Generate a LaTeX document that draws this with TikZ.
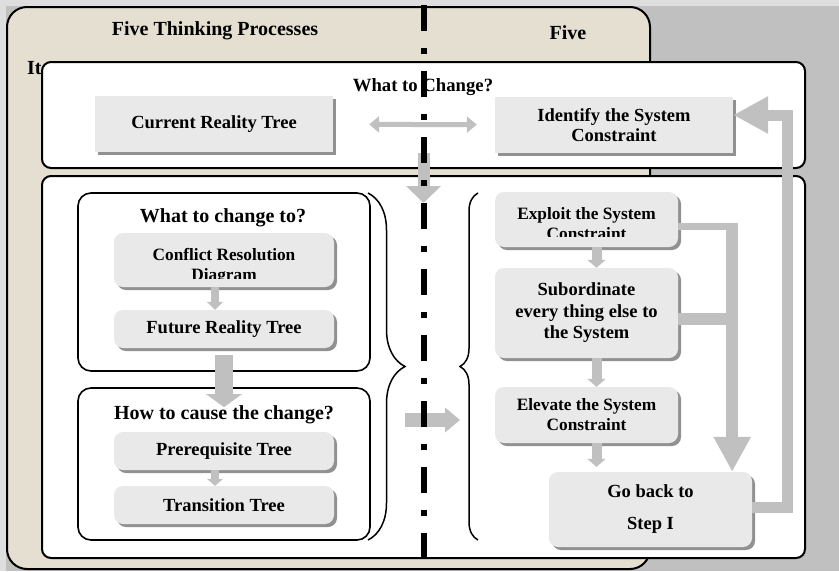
\documentclass[tikz,border=0pt]{standalone}
\usepackage{fontspec}
\setmainfont{Liberation Serif}
\usetikzlibrary{arrows.meta,positioning,shadows,decorations.pathreplacing}
\definecolor{backgray}{RGB}{192,192,192}
\definecolor{edgegray}{RGB}{222,222,222}
\definecolor{paper}{RGB}{229,223,210}
\definecolor{boxgray}{RGB}{233,233,233}
\definecolor{shadegray}{RGB}{145,145,145}
\definecolor{flowgray}{RGB}{192,192,192}
\newcommand\cardfont{\bfseries\fontsize{18.5}{21}\selectfont}
\newcommand\smallcardfont{\bfseries\fontsize{17.3}{20}\selectfont}
\tikzset{
  frame/.style={draw,line width=2pt,rounded corners=9pt,fill=white,inner sep=0pt},
  group/.style={draw,line width=1.6pt,rounded corners=13pt,minimum width=292pt,inner sep=0pt},
  card/.style={fill=boxgray,align=center,inner sep=0pt,font=\cardfont,
    drop shadow={shadow xshift=3pt,shadow yshift=-3pt,fill=shadegray,opacity=1}},
  rcard/.style={card,rounded corners=9pt},
  cardtext/.style={align=center,inner sep=0pt,font=\smallcardfont},
  headline/.style={font=\bfseries\fontsize{20}{24}\selectfont,inner sep=0pt},
  flow/.style n args={3}{draw=flowgray,line width=#1pt,-{Triangle[length=#2pt,width=#3pt]}},
  divider/.style={line width=6pt,dash pattern=on 26pt off 17pt on 6pt off 17pt},
  bracket/.style={decorate,decoration={brace,amplitude=#1pt},line width=1.5pt}
}
\begin{document}
\begin{tikzpicture}[x=1pt,y=-1pt]
% page, grey surround and paper panel
\fill[backgray] (0,0) rectangle (839,571);
\fill[edgegray] (0,0) rectangle (839,6);
\fill[edgegray] (0,0) rectangle (6,571);
\useasboundingbox (0,0) rectangle (839,571);
\draw[fill=paper,line width=2pt,rounded corners=20pt] (7,7) rectangle (650,569);
\node[headline] (tp) at (215,31) {Five Thinking Processes};
\node[headline] (fs) at (568,33) {Five};
\node[headline,anchor=west] (it) at (27,68) {It};

% white frames
\node[frame,minimum width=763pt,minimum height=106pt] (change) at (423.5,115) {};
\node[frame,minimum width=763pt,minimum height=382pt] (steps) at (423.5,367) {};

% what to change
\node[headline,font=\bfseries\fontsize{18.7}{22}\selectfont] (wtc) at (423,87) {What to Change?};
\node[card,minimum width=238pt,minimum height=56pt] (crt) at (214,124) {Current Reality Tree};
\node[card,minimum width=238pt,minimum height=56pt,font=\bfseries\fontsize{18.5}{20}\selectfont] (ident) at (614,125) {Identify the System\\Constraint};

% thinking processes, left column
\node[group,minimum height=178pt] (tobe) at (224,282) {};
\node[group,minimum height=152pt] (howto) at (224,464) {};
\node[headline] (tobetitle) at (223,218) {What to change to?};
\node[headline] (howtitle) at (224,415) {How to cause the change?};
\node[rcard,minimum width=220pt,minimum height=54pt] (crd) at (224,260) {};
\begin{scope}
  \clip (113,233) rectangle (335,278);
  \node[cardtext] (crdtext) at (224,266) {Conflict Resolution\\Diagram};
\end{scope}
\node[rcard,minimum width=220pt,minimum height=38pt] (frt) at (224,329) {Future Reality Tree};
\node[rcard,minimum width=220pt,minimum height=38pt] (prt) at (224,451) {Prerequisite Tree};
\node[rcard,minimum width=220pt,minimum height=38pt] (trt) at (224,505) {Transition Tree};

% focusing steps, right column
\node[rcard,minimum width=183pt,minimum height=55pt] (exploit) at (586.5,219.5) {};
\begin{scope}
  \clip (495,192) rectangle (678,236);
  \node[cardtext] (exploittext) at (586.5,224) {Exploit the System\\Constraint};
\end{scope}
\node[rcard,minimum width=183pt,minimum height=90pt,font=\bfseries\fontsize{18.5}{21.5}\selectfont] (sub) at (586.5,313) {Subordinate\\every thing else to\\the System};
\node[rcard,minimum width=183pt,minimum height=56pt,font=\smallcardfont] (elev) at (586.5,415) {Elevate the System\\Constraint};
\node[rcard,minimum width=203pt,minimum height=75pt,font=\bfseries\fontsize{18.5}{32}\selectfont] (goback) at (650.5,509.5) {Go back to\\Step I};

% braces
\draw[bracket=37] (368,193) -- (368,540);
\draw[bracket=18] (478,540) -- (478,193);

% arrows
\draw[draw=flowgray,line width=5pt,{Triangle[length=10pt,width=16pt]}-{Triangle[length=10pt,width=16pt]},shorten <=36pt,shorten >=18pt] (crt) -- (ident);
\draw[flow={12}{17}{34}] ([yshift=16pt]change.south) -- ([yshift=-28pt]steps.north);
\draw[flow={8}{8}{16}] ([xshift=-9pt]crd.south) -- ([xshift=-9pt]frt.north);
\draw[flow={18}{13}{35}] ([yshift=-7pt]frt.south) -- ([yshift=-20pt]howto.north);
\draw[flow={8}{7}{16}] ([xshift=-9pt]prt.south) -- ([xshift=-9pt]trt.north);
\coordinate (fromleft) at (405,420);
\coordinate (toright) at (460,420);
\draw[flow={14}{15}{24}] (fromleft) -- (toright);
\draw[flow={10}{8}{18}] ([xshift=10pt]exploit.south) -- ([xshift=10pt]sub.north);
\draw[flow={10}{8}{18}] ([xshift=10pt]sub.south) -- ([xshift=10pt]elev.north);
\coordinate (elevout) at ([xshift=10pt]elev.south);
\draw[flow={10}{8}{18},shorten >=5pt] (elevout) -- (elevout |- goback.north);

% feedback lines
\coordinate (rail) at ([xshift=54pt,yshift=-7pt]exploit.east);
\draw[draw=flowgray,line width=7pt] ([yshift=-7pt]exploit.east) -- ([xshift=6pt]rail);
\draw[flow={12}{35}{35}] ([yshift=3.5pt]rail) -- (rail |- goback.north);
\draw[draw=flowgray,line width=12pt] ([yshift=-6pt]sub.east) -- ++(54,0);
\draw[flow={11}{35}{35}] ([yshift=2pt]goback.east) -- ++(35,0) |- ([yshift=10pt]ident.east);

% dash-dot divider on top
\draw[divider] (424,5) -- (424,571);
\end{tikzpicture}
\end{document}
